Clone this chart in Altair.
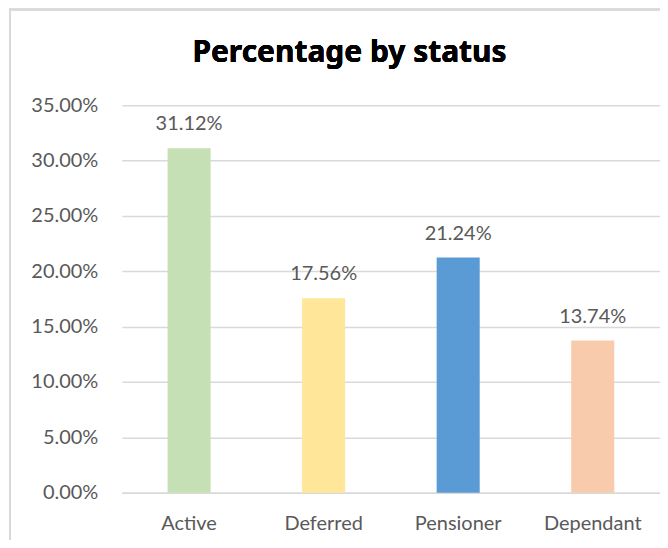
import altair as alt
import pandas as pd

categories = ["Active", "Deferred", "Pensioner", "Dependant"]
values = [0.3112, 0.1756, 0.2124, 0.1374]
colors = ["#C5E0B4", "#FFE699", "#5B9BD5", "#F8CBAD"]

df = pd.DataFrame({"status": categories, "value": values, "color": colors})

FONT = "Lato"
GRAY = "#595959"

x = alt.X("status:N", sort=categories, title=None,
          scale=alt.Scale(paddingInner=0.68, paddingOuter=0.34),
          axis=alt.Axis(labelAngle=0, labelFontSize=20, labelColor=GRAY, labelFont=FONT,
                        ticks=False, domainColor="#D9D9D9", domainWidth=1.5, labelPadding=21))
y = alt.Y("value:Q", title=None,
          scale=alt.Scale(domain=[0, 0.35]),
          axis=alt.Axis(format=".2%", values=[0, 0.05, 0.10, 0.15, 0.20, 0.25, 0.30, 0.35],
                        labelFontSize=20, labelColor=GRAY, labelFont=FONT, ticks=False,
                        domain=False, gridColor="#D9D9D9", gridWidth=1.5, labelPadding=24))

frame = alt.Chart(df).mark_rect(fill="white", fillOpacity=0, stroke="#D9D9D9", strokeWidth=2, clip=False).encode(
    x=alt.value(-112), x2=alt.value(560), y=alt.value(-96), y2=alt.value(460)
)

bars = alt.Chart(df).mark_bar().encode(
    x=x, y=y, color=alt.Color("color:N", scale=None)
)

labels = alt.Chart(df).mark_text(baseline="alphabetic", dy=-18, fontSize=20, color=GRAY, font=FONT).encode(
    x=alt.X("status:N", sort=categories), y="value:Q", text=alt.Text("value:Q", format=".2%")
)

title = alt.Chart(df).mark_text(fontSize=30, fontWeight="bold", color="black", font="Noto Sans",
                                 align="center", baseline="alphabetic", clip=False).encode(
    x=alt.value(228), y=alt.value(-43), text=alt.value("Percentage by status")
)

chart = alt.layer(frame, bars, labels, title).properties(
    width=539, height=388,
    autosize=alt.AutoSizeParams(type="none"),
    padding={"left": 114, "top": 97, "right": 0, "bottom": 47},
).configure_view(stroke=None)

chart.save("out.html", embed_options={"renderer": "svg", "actions": False})
